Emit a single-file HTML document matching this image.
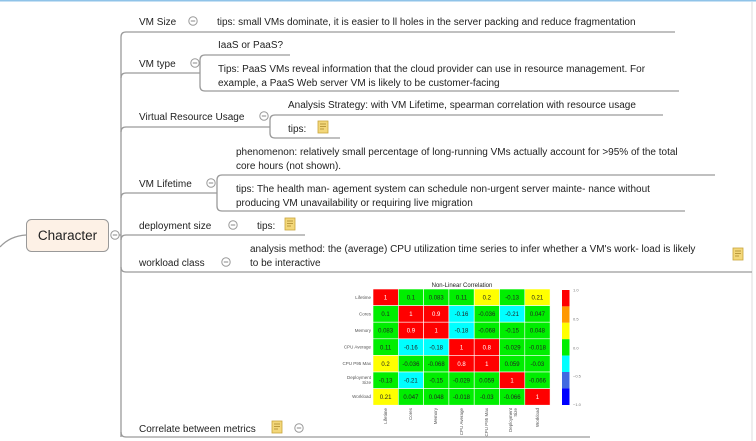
<!DOCTYPE html>
<html><head><meta charset="utf-8"><style>
html,body{margin:0;padding:0;background:#fff;width:756px;height:441px;overflow:hidden}
svg{display:block}
text{font-family:"Liberation Sans",sans-serif;fill:#222}
.t{font-size:10px}
.ln{stroke:#9a9a9a;stroke-width:1.3;fill:none}
.c{fill:#fff;stroke:#999;stroke-width:1}
.hm{font-size:6px;text-anchor:middle;fill:#222}
.rl{font-size:4.5px;text-anchor:end;fill:#555}
</style></head><body>
<svg width="756" height="441" viewBox="0 0 756 441">
<defs>
<g id="note"><rect x="0" y="0" width="10" height="12" fill="#f3d77a" stroke="#c9a53a" stroke-width="0.8"/><path d="M2 3h6M2 5.5h6M2 8h4" stroke="#a8852a" stroke-width="0.8"/></g>
<g id="col"><circle r="4.2" fill="#fff" stroke="#999"/><path d="M-2.2 0h4.4" stroke="#888" stroke-width="1"/></g>
</defs>
<line x1="0" y1="0.5" x2="756" y2="0.5" stroke="#8fc3e8" stroke-width="2"/>
<line x1="752" y1="2" x2="752" y2="441" stroke="#ddd" stroke-width="1"/>

<!-- root -->
<path d="M0 247 Q10 236 26 235" class="ln"/>
<rect x="26.5" y="219.5" width="82" height="32" rx="5" fill="#fdf1e6" stroke="#999"/>
<text x="67.5" y="240" font-size="13.5" text-anchor="middle">Character</text>
<line x1="119" y1="235" x2="121" y2="235" class="ln"/>
<use href="#col" x="115" y="235"/>

<!-- main bracket -->
<path d="M121 437 L121 37 Q121 32 126 32 L675 32" class="ln"/>
<path d="M121 78 Q121 73 126 73 L200 73" class="ln"/>
<path d="M121 132 Q121 127 126 127 L270 127" class="ln"/>
<path d="M121 198 Q121 193 126 193 L217 193" class="ln"/>
<path d="M121 240 Q121 235 126 235 L305 235" class="ln"/>
<path d="M121 267 Q121 272 126 272 L752 272" class="ln"/>
<path d="M121 432 Q121 437 126 437 L590 437" class="ln"/>

<!-- VM size -->
<text class="t" x="139" y="25">VM Size</text>
<use href="#col" x="193" y="21"/>
<text class="t" x="217" y="25">tips: small VMs dominate, it is easier to  ll holes in the server packing and reduce fragmentation</text>

<!-- VM type -->
<text class="t" x="139" y="67">VM type</text>
<use href="#col" x="195" y="63"/>
<path d="M200 86 L200 60 Q200 55 205 55 L290 55" class="ln"/>
<path d="M200 86 Q200 91 205 91 L679 91" class="ln"/>
<text class="t" x="218" y="48">IaaS or PaaS?</text>
<text class="t" x="218" y="72">Tips: PaaS VMs reveal information that the cloud provider can use in resource management. For</text>
<text class="t" x="218" y="86">example, a PaaS Web server VM is likely to be customer-facing</text>

<!-- VRU -->
<text class="t" x="139" y="120">Virtual Resource Usage</text>
<use href="#col" x="264" y="116"/>
<path d="M270 133 L270 120 Q270 115 275 115 L663 115" class="ln"/>
<path d="M270 133 Q270 138 275 138 L340 138" class="ln"/>
<text class="t" x="288" y="108">Analysis Strategy: with VM Lifetime, spearman correlation with resource usage</text>
<text class="t" x="288" y="132">tips:</text>
<use href="#note" x="318" y="121"/>

<!-- VM lifetime -->
<text class="t" x="139" y="187">VM Lifetime</text>
<use href="#col" x="211" y="183"/>
<path d="M217 206 L217 180 Q217 175 222 175 L715 175" class="ln"/>
<path d="M217 206 Q217 211 222 211 L685 211" class="ln"/>
<text class="t" x="236" y="155">phenomenon: relatively small percentage of long-running VMs actually account for &gt;95% of the total</text>
<text class="t" x="236" y="169">core hours (not shown).</text>
<text class="t" x="236" y="192">tips: The health man- agement system can schedule non-urgent server mainte- nance without</text>
<text class="t" x="236" y="206">producing VM unavailability or requiring live migration</text>

<!-- deployment -->
<text class="t" x="139" y="229">deployment size</text>
<use href="#col" x="233" y="225"/>
<text class="t" x="257" y="229">tips:</text>
<use href="#note" x="285" y="218"/>

<!-- workload -->
<text class="t" x="139" y="266">workload class</text>
<use href="#col" x="226" y="262"/>
<text class="t" x="250" y="252">analysis method:  the (average) CPU utilization time series to infer whether a VM's work- load is likely</text>
<text class="t" x="250" y="266">to be interactive</text>
<use href="#note" x="733" y="248"/>

<!-- correlate -->
<text class="t" x="139" y="432">Correlate between metrics</text>
<use href="#note" x="272" y="421"/>
<use href="#col" x="299" y="428"/>

<!-- heatmap -->
<text x="462" y="287" font-size="6" text-anchor="middle" fill="#444">Non-Linear Correlation</text>
<g id="hm"></g>
<g stroke="#fff" stroke-width="0.6">
<!-- row 0 -->
<rect x="373" y="289" width="25.3" height="16.6" fill="#ff0000"/><rect x="398.3" y="289" width="25.3" height="16.6" fill="#00ee00"/><rect x="423.6" y="289" width="25.3" height="16.6" fill="#00ee00"/><rect x="448.9" y="289" width="25.3" height="16.6" fill="#00ee00"/><rect x="474.2" y="289" width="25.3" height="16.6" fill="#ffff00"/><rect x="499.5" y="289" width="25.3" height="16.6" fill="#00ee00"/><rect x="524.8" y="289" width="25.3" height="16.6" fill="#ffff00"/>
<rect x="373" y="305.6" width="25.3" height="16.6" fill="#00ee00"/><rect x="398.3" y="305.6" width="25.3" height="16.6" fill="#ff0000"/><rect x="423.6" y="305.6" width="25.3" height="16.6" fill="#ff0000"/><rect x="448.9" y="305.6" width="25.3" height="16.6" fill="#00ffff"/><rect x="474.2" y="305.6" width="25.3" height="16.6" fill="#00ee00"/><rect x="499.5" y="305.6" width="25.3" height="16.6" fill="#00ffff"/><rect x="524.8" y="305.6" width="25.3" height="16.6" fill="#00ee00"/>
<rect x="373" y="322.2" width="25.3" height="16.6" fill="#00ee00"/><rect x="398.3" y="322.2" width="25.3" height="16.6" fill="#ff0000"/><rect x="423.6" y="322.2" width="25.3" height="16.6" fill="#ff0000"/><rect x="448.9" y="322.2" width="25.3" height="16.6" fill="#00ffff"/><rect x="474.2" y="322.2" width="25.3" height="16.6" fill="#00ee00"/><rect x="499.5" y="322.2" width="25.3" height="16.6" fill="#00ee00"/><rect x="524.8" y="322.2" width="25.3" height="16.6" fill="#00ee00"/>
<rect x="373" y="338.8" width="25.3" height="16.6" fill="#00ee00"/><rect x="398.3" y="338.8" width="25.3" height="16.6" fill="#00ffff"/><rect x="423.6" y="338.8" width="25.3" height="16.6" fill="#00ffff"/><rect x="448.9" y="338.8" width="25.3" height="16.6" fill="#ff0000"/><rect x="474.2" y="338.8" width="25.3" height="16.6" fill="#ff0000"/><rect x="499.5" y="338.8" width="25.3" height="16.6" fill="#00ee00"/><rect x="524.8" y="338.8" width="25.3" height="16.6" fill="#00ee00"/>
<rect x="373" y="355.4" width="25.3" height="16.6" fill="#ffff00"/><rect x="398.3" y="355.4" width="25.3" height="16.6" fill="#00ee00"/><rect x="423.6" y="355.4" width="25.3" height="16.6" fill="#00ee00"/><rect x="448.9" y="355.4" width="25.3" height="16.6" fill="#ff0000"/><rect x="474.2" y="355.4" width="25.3" height="16.6" fill="#ff0000"/><rect x="499.5" y="355.4" width="25.3" height="16.6" fill="#00ee00"/><rect x="524.8" y="355.4" width="25.3" height="16.6" fill="#00ee00"/>
<rect x="373" y="372" width="25.3" height="16.6" fill="#00ee00"/><rect x="398.3" y="372" width="25.3" height="16.6" fill="#00ffff"/><rect x="423.6" y="372" width="25.3" height="16.6" fill="#00ee00"/><rect x="448.9" y="372" width="25.3" height="16.6" fill="#00ee00"/><rect x="474.2" y="372" width="25.3" height="16.6" fill="#00ee00"/><rect x="499.5" y="372" width="25.3" height="16.6" fill="#ff0000"/><rect x="524.8" y="372" width="25.3" height="16.6" fill="#00ee00"/>
<rect x="373" y="388.6" width="25.3" height="16.6" fill="#ffff00"/><rect x="398.3" y="388.6" width="25.3" height="16.6" fill="#00ee00"/><rect x="423.6" y="388.6" width="25.3" height="16.6" fill="#00ee00"/><rect x="448.9" y="388.6" width="25.3" height="16.6" fill="#00ee00"/><rect x="474.2" y="388.6" width="25.3" height="16.6" fill="#00ee00"/><rect x="499.5" y="388.6" width="25.3" height="16.6" fill="#00ee00"/><rect x="524.8" y="388.6" width="25.3" height="16.6" fill="#ff0000"/>
</g>
<g class="hm">
<text class="hm" x="385.6" y="299.5" fill="#fff" style="fill:#fff">1</text><text class="hm" x="410.9" y="299.5">0.1</text><text class="hm" x="436.2" y="299.5">0.083</text><text class="hm" x="461.5" y="299.5">0.11</text><text class="hm" x="486.8" y="299.5">0.2</text><text class="hm" x="512.1" y="299.5">-0.13</text><text class="hm" x="537.4" y="299.5">0.21</text>
<text class="hm" x="385.6" y="316.1">0.1</text><text class="hm" x="410.9" y="316.1" style="fill:#fff">1</text><text class="hm" x="436.2" y="316.1" style="fill:#fff">0.9</text><text class="hm" x="461.5" y="316.1">-0.16</text><text class="hm" x="486.8" y="316.1">-0.036</text><text class="hm" x="512.1" y="316.1">-0.21</text><text class="hm" x="537.4" y="316.1">0.047</text>
<text class="hm" x="385.6" y="332.7">0.083</text><text class="hm" x="410.9" y="332.7" style="fill:#fff">0.9</text><text class="hm" x="436.2" y="332.7" style="fill:#fff">1</text><text class="hm" x="461.5" y="332.7">-0.18</text><text class="hm" x="486.8" y="332.7">-0.068</text><text class="hm" x="512.1" y="332.7">-0.15</text><text class="hm" x="537.4" y="332.7">0.048</text>
<text class="hm" x="385.6" y="349.3">0.11</text><text class="hm" x="410.9" y="349.3">-0.16</text><text class="hm" x="436.2" y="349.3">-0.18</text><text class="hm" x="461.5" y="349.3" style="fill:#fff">1</text><text class="hm" x="486.8" y="349.3" style="fill:#fff">0.8</text><text class="hm" x="512.1" y="349.3">-0.029</text><text class="hm" x="537.4" y="349.3">-0.018</text>
<text class="hm" x="385.6" y="365.9">0.2</text><text class="hm" x="410.9" y="365.9">-0.036</text><text class="hm" x="436.2" y="365.9">-0.068</text><text class="hm" x="461.5" y="365.9" style="fill:#fff">0.8</text><text class="hm" x="486.8" y="365.9" style="fill:#fff">1</text><text class="hm" x="512.1" y="365.9">0.059</text><text class="hm" x="537.4" y="365.9">-0.03</text>
<text class="hm" x="385.6" y="382.5">-0.13</text><text class="hm" x="410.9" y="382.5">-0.21</text><text class="hm" x="436.2" y="382.5">-0.15</text><text class="hm" x="461.5" y="382.5">-0.029</text><text class="hm" x="486.8" y="382.5">0.059</text><text class="hm" x="512.1" y="382.5" style="fill:#fff">1</text><text class="hm" x="537.4" y="382.5">-0.066</text>
<text class="hm" x="385.6" y="399.1">0.21</text><text class="hm" x="410.9" y="399.1">0.047</text><text class="hm" x="436.2" y="399.1">0.048</text><text class="hm" x="461.5" y="399.1">-0.018</text><text class="hm" x="486.8" y="399.1">-0.03</text><text class="hm" x="512.1" y="399.1">-0.066</text><text class="hm" x="537.4" y="399.1" style="fill:#fff">1</text>
</g>
<g>
<text class="rl" x="371" y="299">Lifetime</text>
<text class="rl" x="371" y="315.5">Cores</text>
<text class="rl" x="371" y="332">Memory</text>
<text class="rl" x="371" y="348.5">CPU Average</text>
<text class="rl" x="371" y="365">CPU P95 Max</text>
<text class="rl" x="371" y="379">Deployment</text>
<text class="rl" x="371" y="384">Size</text>
<text class="rl" x="371" y="398">Workload</text>
</g>
<g font-size="4.5" fill="#555">
<text transform="translate(387,408) rotate(-90)" text-anchor="end" style="font-size:4.5px;fill:#555">Lifetime</text>
<text transform="translate(412,408) rotate(-90)" text-anchor="end" style="font-size:4.5px;fill:#555">Cores</text>
<text transform="translate(437,408) rotate(-90)" text-anchor="end" style="font-size:4.5px;fill:#555">Memory</text>
<text transform="translate(463,408) rotate(-90)" text-anchor="end" style="font-size:4.5px;fill:#555">CPU Average</text>
<text transform="translate(488,408) rotate(-90)" text-anchor="end" style="font-size:4.5px;fill:#555">CPU P95 Max</text>
<text transform="translate(512,408) rotate(-90)" text-anchor="end" style="font-size:4.5px;fill:#555">Deployment</text>
<text transform="translate(517,408) rotate(-90)" text-anchor="end" style="font-size:4.5px;fill:#555">Size</text>
<text transform="translate(539,408) rotate(-90)" text-anchor="end" style="font-size:4.5px;fill:#555">Workload</text>
</g>
<rect x="562" y="290" width="7.5" height="16.4" fill="#ff0000"/>
<rect x="562" y="306.4" width="7.5" height="16.4" fill="#ff9900"/>
<rect x="562" y="322.8" width="7.5" height="16.4" fill="#ffff00"/>
<rect x="562" y="339.2" width="7.5" height="16.4" fill="#00ee00"/>
<rect x="562" y="355.6" width="7.5" height="16.4" fill="#00ffff"/>
<rect x="562" y="372" width="7.5" height="16.4" fill="#4169e1"/>
<rect x="562" y="388.4" width="7.5" height="16.6" fill="#0000ff"/>
<g style="font-size:4px;fill:#777">
<text x="573" y="291.5" style="font-size:4px;fill:#777">1.0</text>
<text x="573" y="320.5" style="font-size:4px;fill:#777">0.5</text>
<text x="573" y="349.5" style="font-size:4px;fill:#777">0.0</text>
<text x="573" y="377.5" style="font-size:4px;fill:#777">−0.5</text>
<text x="573" y="406" style="font-size:4px;fill:#777">−1.0</text>
</g>
</svg>
</body></html>
